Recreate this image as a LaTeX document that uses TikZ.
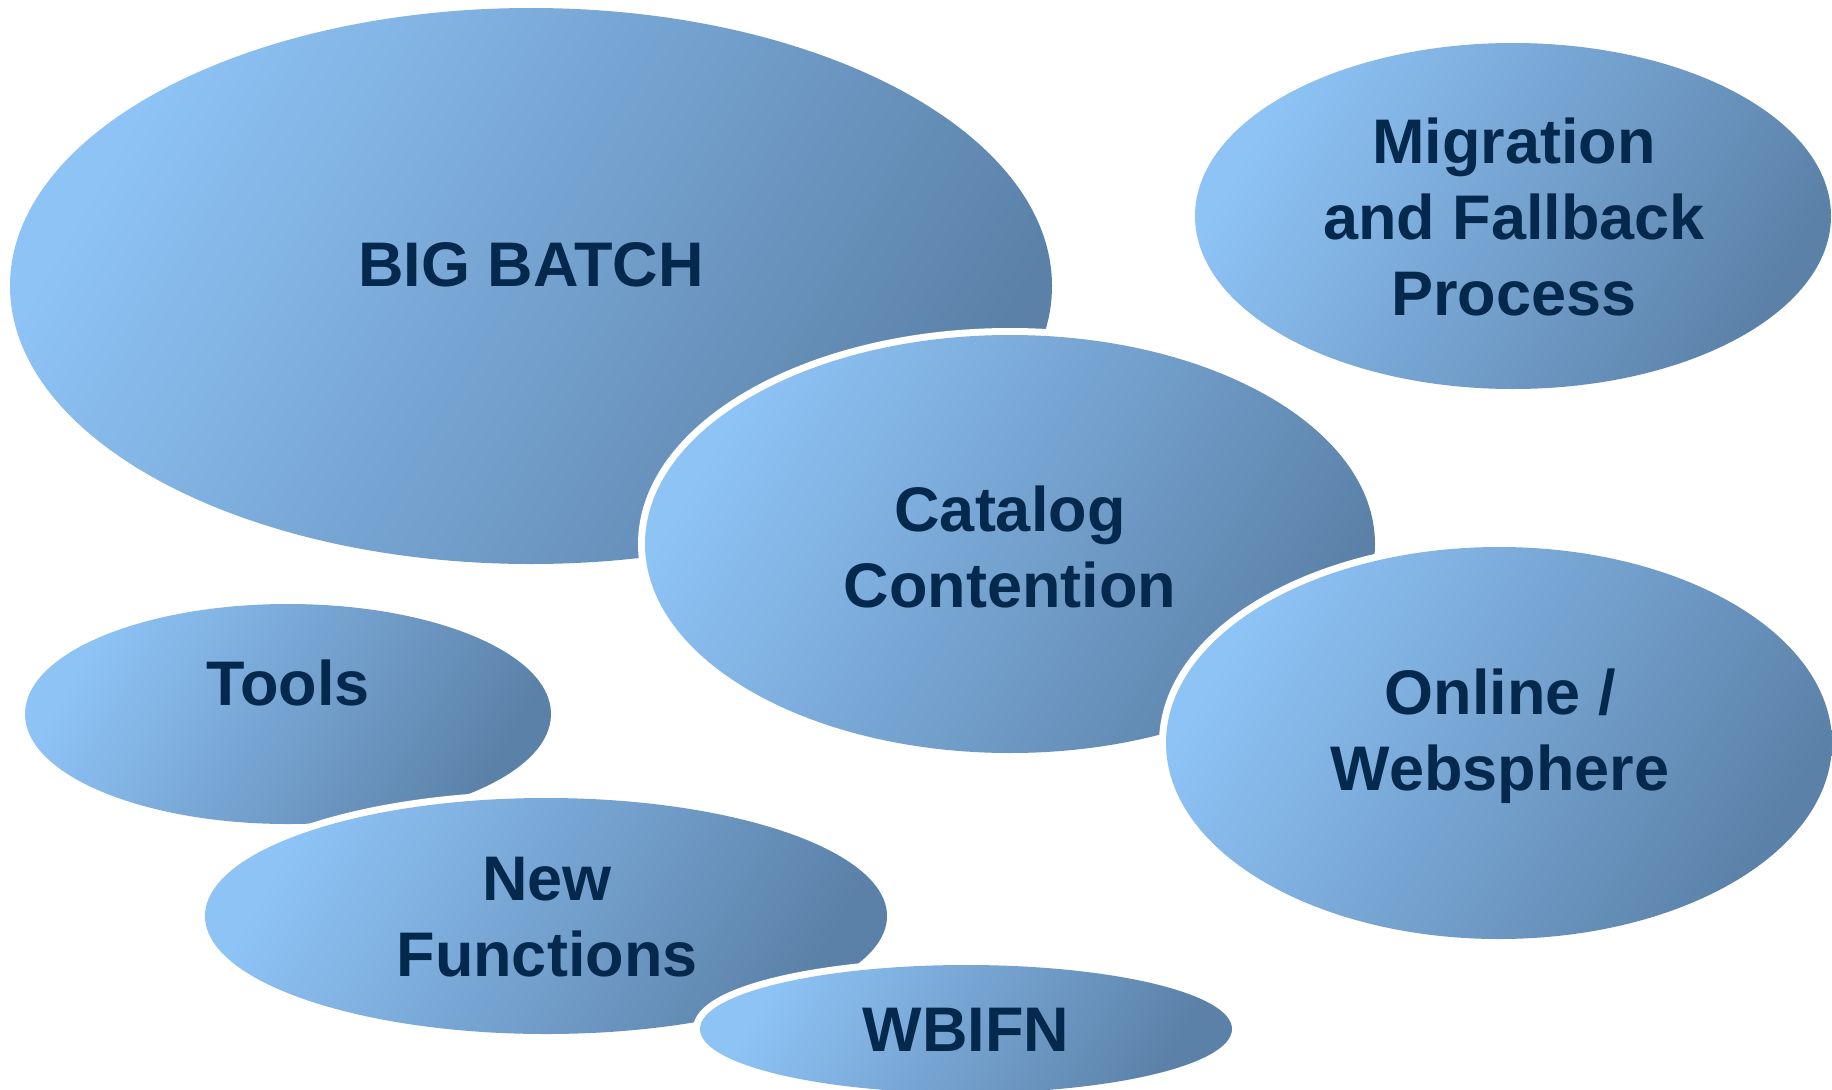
\documentclass[tikz,border=0pt]{standalone}
\usepackage{fontspec}
\setmainfont{Liberation Sans}
\usetikzlibrary{shapes.geometric}
\definecolor{lightb}{HTML}{8EC3F6}
\definecolor{darkb}{HTML}{5B81A8}
\definecolor{txt}{HTML}{05284D}
\tikzset{
  blob/.style={ellipse, inner sep=0pt, draw=none,
    preaction={draw=white, line width=14pt},
    left color=lightb, right color=darkb, shading angle=60},
  lbl/.style={text=txt, font=\bfseries\fontsize{63}{76}\selectfont, align=center, inner sep=0pt}
}
\begin{document}
\begin{tikzpicture}[x=1pt,y=-1pt]
\useasboundingbox[fill=white] (0,0) rectangle (1832,1090);
% group 1
\node[blob, minimum width=1042pt, minimum height=556pt] (bigbatch) at (531,286) {};
\node[blob, minimum width=730pt, minimum height=418pt] (catalog) at (1010,544) {};
\node[blob, minimum width=666pt, minimum height=392pt] (online) at (1499,743) {};
\node[blob, minimum width=636pt, minimum height=346pt] (migration) at (1513,216) {};
% group 2
\node[blob, minimum width=526pt, minimum height=220pt] (tools) at (288,714) {};
\node[blob, minimum width=682pt, minimum height=236pt] (newfn) at (546,916) {};
\node[blob, minimum width=532pt, minimum height=128pt] (wbifn) at (966,1029) {};
% labels
\node[lbl] (tbig) at (531,265) {BIG BATCH};
\node[lbl] (tmig) at (1514,217) {Migration\\and Fallback\\Process};
\node[lbl] (tcat) at (1010,547) {Catalog\\Contention};
\node[lbl] (tonl) at (1500,736) {Online /\\Websphere};
\node[lbl] (ttools) at (288,683) {Tools};
\node[lbl] (tnew) at (547,917) {New\\Functions};
\node[lbl] (twb) at (966,1030) {WBIFN};
\end{tikzpicture}
\end{document}
